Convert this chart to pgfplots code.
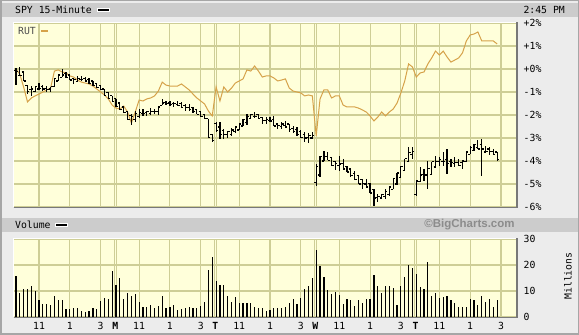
\documentclass[border=0pt]{standalone}
\usepackage{fontspec}
\setmainfont{DejaVu Sans Mono}
\newfontfamily\bcfont{Liberation Sans}
\usepackage{pgfplots}
\pgfplotsset{compat=1.18}
\usepackage{pgfplotstable}

\definecolor{outerbg}{RGB}{236,236,236}
\definecolor{headbg}{RGB}{204,204,204}
\definecolor{plotbg}{RGB}{255,255,218}
\definecolor{gridc}{RGB}{206,206,150}
\definecolor{rutc}{RGB}{214,162,74}
\definecolor{framedark}{RGB}{120,120,120}
\definecolor{bcgray}{RGB}{140,140,140}

\pgfdeclareplotmark{otick}{\pgfpathmoveto{\pgfqpoint{-2pt}{0pt}}\pgfpathlineto{\pgfqpoint{0pt}{0pt}}\pgfusepathqstroke}
\pgfdeclareplotmark{ctick}{\pgfpathmoveto{\pgfqpoint{0pt}{0pt}}\pgfpathlineto{\pgfqpoint{2pt}{0pt}}\pgfusepathqstroke}

% x = bar centre (15-minute bars, 26 per day, Fri..Thu), h l o c = SPY % change, r = RUT % change, v = volume (millions)
\pgfplotstableread{
x h l o c r v
0.5 0.04 -0.70 -0.05 -0.11 0.00 15.8
1.5 0.09 -0.30 -0.30 -0.30 -0.22 9.3
2.5 -0.13 -0.52 -0.13 -0.52 -0.78 10.6
3.5 -0.70 -1.09 -0.70 -0.96 -1.43 10.9
4.5 -0.74 -1.17 -0.90 -0.87 -1.26 11.9
5.5 -0.74 -1.00 -0.96 -0.76 -1.17 10.1
6.5 -0.61 -0.91 -0.87 -0.83 -1.09 6.5
7.5 -0.70 -0.96 -0.76 -0.87 -1.00 5.0
8.5 -0.74 -1.00 -0.83 -0.89 -0.91 5.0
9.5 -0.78 -1.00 -0.87 -0.78 -0.83 4.7
10.5 -0.43 -0.78 -0.78 -0.43 -0.09 8.1
11.5 -0.26 -0.52 -0.52 -0.26 -0.04 6.5
12.5 0.00 -0.35 -0.35 -0.26 -0.13 6.5
13.5 -0.13 -0.39 -0.18 -0.37 -0.17 3.1
14.5 -0.26 -0.48 -0.26 -0.48 -0.30 3.1
15.5 -0.43 -0.65 -0.43 -0.44 -0.35 3.3
16.5 -0.30 -0.57 -0.54 -0.41 -0.48 3.3
17.5 -0.30 -0.52 -0.44 -0.46 -0.57 2.3
18.5 -0.35 -0.57 -0.41 -0.52 -0.61 1.9
19.5 -0.39 -0.65 -0.46 -0.63 -0.65 2.3
20.5 -0.52 -0.74 -0.52 -0.72 -0.74 3.3
21.5 -0.61 -0.83 -0.63 -0.81 -0.87 3.1
22.5 -0.70 -0.91 -0.72 -0.91 -1.00 6.3
23.5 -0.87 -1.17 -0.87 -1.15 -1.13 7.3
24.5 -1.00 -1.30 -1.02 -1.30 -1.30 7.1
25.5 -1.17 -1.43 -1.17 -1.43 -1.57 17.7
26.5 -1.30 -1.65 -1.30 -1.63 -1.70 12.3
27.5 -1.48 -1.78 -1.48 -1.78 -1.74 14.9
28.5 -1.65 -1.91 -1.65 -1.91 -1.61 7.0
29.5 -1.83 -2.22 -1.83 -2.20 -1.87 9.3
30.5 -1.96 -2.43 -2.03 -2.07 -2.35 8.1
31.5 -1.83 -2.30 -2.20 -1.92 -1.87 8.8
32.5 -1.74 -2.09 -2.07 -1.89 -1.35 5.9
33.5 -1.74 -2.04 -1.92 -1.94 -1.39 4.0
34.5 -1.83 -2.04 -1.89 -1.83 -1.30 3.7
35.5 -1.70 -1.96 -1.94 -1.85 -1.26 4.6
36.5 -1.74 -1.96 -1.83 -1.83 -1.17 3.3
37.5 -1.65 -2.00 -1.85 -1.65 -0.96 4.2
38.5 -1.30 -1.57 -1.57 -1.48 -0.57 8.1
39.5 -1.39 -1.57 -1.44 -1.50 -0.70 3.3
40.5 -1.39 -1.61 -1.48 -1.54 -0.74 3.8
41.5 -1.43 -1.65 -1.50 -1.50 -0.74 4.6
42.5 -1.39 -1.61 -1.54 -1.57 -0.74 2.8
43.5 -1.43 -1.70 -1.50 -1.68 -0.65 3.2
44.5 -1.52 -1.83 -1.57 -1.68 -0.78 3.5
45.5 -1.52 -1.83 -1.68 -1.78 -0.91 3.7
46.5 -1.65 -1.91 -1.68 -1.85 -1.09 3.4
47.5 -1.74 -1.96 -1.78 -1.96 -1.26 3.4
48.5 -1.83 -2.09 -1.85 -2.07 -1.39 4.2
49.5 -1.96 -2.17 -1.96 -2.17 -1.52 5.6
50.5 -2.17 -2.96 -2.17 -2.96 -1.83 18.1
51.5 -2.83 -3.17 -2.83 -3.10 -2.04 23.0
52.5 -2.30 -2.74 -2.35 -2.67 -0.78 13.8
53.5 -2.30 -3.04 -2.52 -2.83 -1.39 12.3
54.5 -2.61 -3.04 -2.67 -2.85 -0.78 12.3
55.5 -2.70 -3.00 -2.83 -2.72 -1.00 8.1
56.5 -2.57 -2.87 -2.85 -2.65 -0.83 5.8
57.5 -2.52 -2.78 -2.72 -2.52 -0.61 7.6
58.5 -2.39 -2.65 -2.65 -2.39 -0.52 5.4
59.5 -2.17 -2.48 -2.48 -2.20 -0.43 5.4
60.5 -1.96 -2.43 -2.33 -2.07 -0.04 5.4
61.5 -1.96 -2.17 -2.17 -1.98 -0.09 5.4
62.5 -1.87 -2.09 -2.07 -2.07 0.13 4.0
63.5 -1.96 -2.17 -1.98 -2.17 -0.09 3.5
64.5 -2.09 -2.39 -2.09 -2.24 -0.35 3.5
65.5 -2.09 -2.39 -2.24 -2.20 -0.30 2.4
66.5 -2.09 -2.30 -2.24 -2.26 -0.30 2.7
67.5 -2.04 -2.48 -2.20 -2.48 -0.39 3.3
68.5 -2.39 -2.61 -2.39 -2.46 -0.52 3.5
69.5 -2.30 -2.61 -2.50 -2.39 -0.48 3.6
70.5 -2.26 -2.52 -2.46 -2.52 -0.43 4.0
71.5 -2.39 -2.74 -2.39 -2.63 -0.83 5.3
72.5 -2.48 -2.78 -2.57 -2.72 -0.96 6.9
73.5 -2.52 -2.91 -2.63 -2.83 -1.00 5.0
74.5 -2.65 -3.00 -2.72 -2.96 -1.04 7.4
75.5 -2.74 -3.17 -2.83 -3.00 -1.17 10.8
76.5 -2.78 -3.22 -2.96 -2.89 -1.13 11.9
77.5 -2.74 -3.04 -3.00 -2.90 -1.17 15.0
78.5 -4.13 -5.09 -4.95 -4.24 -2.91 25.8
79.5 -3.78 -4.70 -4.61 -3.79 -1.30 19.6
80.5 -3.57 -4.00 -4.00 -3.79 -0.91 15.3
81.5 -3.61 -3.96 -3.79 -3.96 -0.91 10.4
82.5 -3.83 -4.22 -3.83 -4.20 -1.26 8.8
83.5 -4.00 -4.39 -4.03 -4.11 -1.17 9.7
84.5 -3.78 -4.43 -4.20 -4.13 -1.17 8.5
85.5 -3.91 -4.35 -4.11 -4.35 -1.57 5.0
86.5 -4.22 -4.48 -4.22 -4.48 -1.65 6.8
87.5 -4.35 -4.70 -4.35 -4.63 -1.65 6.5
88.5 -4.43 -4.83 -4.53 -4.81 -1.65 4.2
89.5 -4.61 -5.00 -4.63 -5.00 -1.70 6.5
90.5 -4.78 -5.22 -4.81 -4.96 -1.78 5.4
91.5 -4.78 -5.13 -5.00 -5.13 -1.87 6.8
92.5 -4.96 -5.39 -4.96 -5.39 -2.04 7.1
93.5 -5.22 -5.96 -5.22 -5.61 -2.26 16.2
94.5 -5.43 -5.78 -5.59 -5.54 -2.09 11.9
95.5 -5.43 -5.65 -5.61 -5.44 -1.87 9.2
96.5 -5.22 -5.65 -5.54 -5.33 -2.04 11.9
97.5 -5.13 -5.52 -5.44 -5.13 -1.87 11.8
98.5 -4.78 -5.22 -5.22 -4.78 -1.74 11.0
99.5 -4.52 -5.04 -5.00 -4.52 -1.48 4.6
100.5 -4.22 -4.70 -4.70 -4.22 -1.04 11.9
101.5 -3.91 -4.43 -4.43 -3.91 -0.52 15.5
102.5 -3.39 -4.04 -4.04 -3.65 0.22 20.0
103.5 -3.39 -3.91 -3.72 -3.60 0.09 18.7
104.5 -4.87 -5.52 -5.45 -4.87 -0.35 16.5
105.5 -4.26 -4.91 -4.91 -4.61 -0.17 11.4
106.5 -4.35 -4.87 -4.59 -4.61 -0.13 10.6
107.5 -4.00 -5.22 -4.61 -4.31 0.22 21.0
108.5 -4.04 -4.57 -4.57 -4.04 0.48 8.1
109.5 -3.78 -4.26 -4.26 -4.03 0.78 9.1
110.5 -3.83 -4.22 -4.02 -3.92 0.61 7.3
111.5 -3.61 -4.22 -4.03 -4.03 0.78 7.6
112.5 -3.48 -4.57 -3.92 -4.09 0.52 7.9
113.5 -3.91 -4.26 -4.03 -4.05 0.30 6.5
114.5 -3.83 -4.26 -4.09 -4.07 0.39 5.3
115.5 -3.91 -4.22 -4.05 -4.18 0.48 3.7
116.5 -4.00 -4.35 -4.07 -4.00 0.70 4.0
117.5 -3.61 -4.04 -4.04 -3.61 1.22 4.0
118.5 -3.35 -3.70 -3.70 -3.42 1.48 6.8
119.5 -3.26 -3.57 -3.53 -3.29 1.52 6.5
120.5 -3.09 -3.48 -3.42 -3.48 1.61 4.5
121.5 -3.04 -4.65 -3.29 -3.48 1.22 8.1
122.5 -3.35 -3.61 -3.61 -3.57 1.22 5.8
123.5 -3.39 -3.74 -3.48 -3.59 1.22 6.8
124.5 -3.48 -3.70 -3.57 -3.70 1.22 3.7
125.5 -3.61 -4.00 -3.61 -3.95 1.09 6.5
}\data

\pgfplotsset{
  bcaxis/.style={
    scale only axis, width=502pt,
    xmin=0, xmax=130.4,
    axis background/.style={fill=plotbg},
    axis line style={draw=none},
    major tick length=0pt,
    ymajorgrids,
    grid style={gridc, line width=1.1pt},
    yticklabel pos=right,
    yticklabel style={anchor=west, inner sep=0pt, xshift=7.5pt},
    extra x ticks={6.5,14.5,22.5,26,26.6,32.5,40.5,48.5,52,52.6,58.5,66.5,74.5,78,78.6,84.5,92.5,100.5,104,104.6,110.5,118.5,126.5},
    extra x tick labels={},
    extra x tick style={grid=major},
  }
}

\begin{document}
\fontsize{9.8}{11}\selectfont
\begin{tikzpicture}[x=1pt,y=1pt]
\useasboundingbox (0pt,0pt) rectangle (579pt,335pt);
\fill[outerbg] (0pt,0pt) rectangle (579pt,335pt);
\fill[headbg] (1.5pt,318pt) rectangle (577.5pt,332pt);
\fill[headbg] (1.5pt,103pt) rectangle (577.5pt,117pt);
\node[anchor=west, inner sep=0pt] at (15pt,325pt) {SPY 15-Minute};
\filldraw[fill=black, draw=white, line width=0.8pt] (97.5pt,323.2pt) rectangle (109pt,326.8pt);
\node[anchor=east, inner sep=0pt] at (565pt,325pt) {2:45 PM};
\node[anchor=west, inner sep=0pt] at (15pt,110pt) {Volume};
\filldraw[fill=black, draw=white, line width=0.8pt] (55.5pt,108.2pt) rectangle (67pt,111.8pt);
\node[inner sep=0pt, text=bcgray] at (469.5pt,110pt) {\bcfont\bfseries\fontsize{11.5}{12}\selectfont ©BigCharts.com};

\begin{axis}[bcaxis, at={(14pt,128pt)}, anchor=south west, height=184pt,
  ymin=-6, ymax=2, ytick={-6,-5,-4,-3,-2,-1,0,1,2},
  yticklabels={-6\%,-5\%,-4\%,-3\%,-2\%,-1\%,+0\%,+1\%,+2\%},
  xtick=\empty]
\addplot[rutc, line width=1pt, mark=none] table[x=x, y=r] {\data};
\addplot[black, only marks, mark=otick, mark options={line width=1.1pt},
  error bars/.cd, y dir=both, y explicit, error mark=none,
  error bar style={black, line width=1.2pt}]
  table[x=x, y=o, y error plus expr=\thisrow{h}-\thisrow{o}, y error minus expr=\thisrow{o}-\thisrow{l}] {\data};
\addplot[black, only marks, mark=ctick, mark options={line width=1.1pt}] table[x=x, y=c] {\data};
\end{axis}

\begin{axis}[bcaxis, at={(14pt,18pt)}, anchor=south west, height=78pt,
  ymin=0, ymax=30, ytick={0,10,20,30}, yticklabels={0,10,20,30},
  xtick={6.5,14.5,22.5,26.3,32.5,40.5,48.5,52.3,58.5,66.5,74.5,78.3,84.5,92.5,100.5,104.3,110.5,118.5,126.5},
  xticklabels={11,1,3,\textbf{M},11,1,3,\textbf{T},11,1,3,\textbf{W},11,1,3,\textbf{T},11,1,3},
  xticklabel style={inner sep=0pt, yshift=-5.5pt}]
\addplot[ycomb, black, line width=1.2pt, mark=none] table[x=x, y=v] {\data};
\end{axis}

% legend inside the price panel
\node[anchor=west, inner sep=0pt, text=black!70] at (18pt,304pt) {RUT};
\fill[rutc] (41pt,303.2pt) rectangle (48pt,305.4pt);
\node[rotate=90, inner sep=0pt] at (568pt,59pt) {Millions};

% bevelled frames
\draw[white, line width=1pt] (13.5pt,128pt) -- (13.5pt,312.5pt) -- (516pt,312.5pt);
\draw[framedark, line width=1.5pt] (13.5pt,127.25pt) -- (516.75pt,127.25pt) -- (516.75pt,312.5pt);
\draw[white, line width=1pt] (13.5pt,18pt) -- (13.5pt,96.5pt) -- (516pt,96.5pt);
\draw[framedark, line width=1.5pt] (13.5pt,17.25pt) -- (516.75pt,17.25pt) -- (516.75pt,96.5pt);
\draw[gray!70, line width=1.5pt] (0.75pt,0.75pt) rectangle (578.25pt,334.25pt);
\end{tikzpicture}
\end{document}
